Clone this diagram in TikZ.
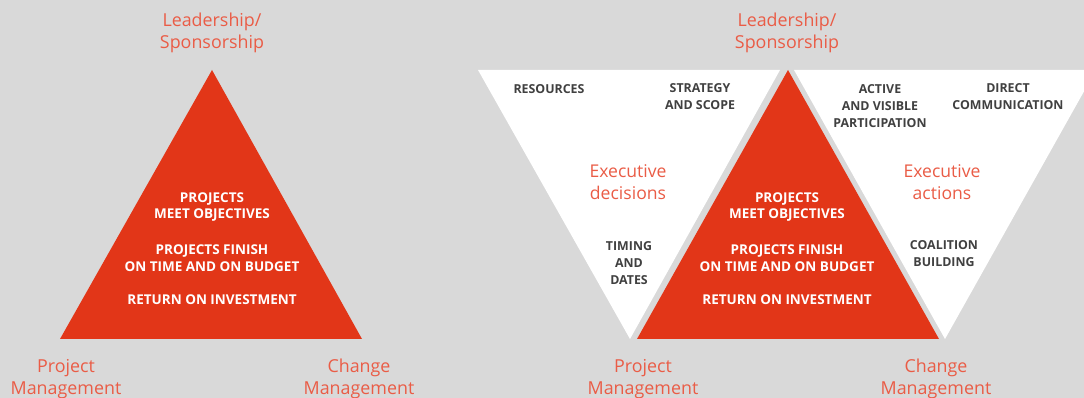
\documentclass[tikz,border=0pt]{standalone}
\usepackage{fontspec}
\setmainfont{Open Sans}
\usepackage{tikz}
\usetikzlibrary{positioning}
\definecolor{bggray}{RGB}{217,217,217}
\definecolor{pyramidred}{RGB}{226,54,24}
\definecolor{labelred}{RGB}{234,92,70}
\definecolor{capsgray}{RGB}{64,64,64}

\begin{document}
\begin{tikzpicture}[x=0.025cm, y=-0.025cm,
    corner/.style={text=labelred, align=center, font=\fontsize{12.7}{15.5}\selectfont},
    inner/.style={text=white, align=center, font=\bfseries\fontsize{9.6}{12}\selectfont},
    side/.style={text=capsgray, align=center, font=\bfseries\fontsize{8.8}{12}\selectfont},
    middle/.style={text=labelred, align=center, font=\fontsize{12.5}{15.5}\selectfont}]
% Background
\fill[bggray] (0,0) rectangle (1084,398);
\useasboundingbox (0,0) rectangle (1084,398);
\clip (0,0) rectangle (1084,398);

% Left pyramid
\fill[pyramidred] (60,339) -- (212,70) -- (362,339) -- cycle;
\node[corner] (lead1) at (212,33) {Leadership/\\Sponsorship};
\node[corner] (pm1) at (66,379) {Project\\Management};
\node[corner] (cm1) at (359,379) {Change\\Management};
\node[inner] (obj1) at (212,207) {PROJECTS\\MEET OBJECTIVES};
\node[inner] (time1) at (212,258) {PROJECTS FINISH\\ON TIME AND ON BUDGET};
\node[inner] (roi1) at (212,300) {RETURN ON INVESTMENT};

% Right pyramid with executive triangles
\fill[white] (478,70) -- (780,70) -- (630,339) -- cycle;
\fill[white] (794,70) -- (1096,70) -- (945,339) -- cycle;
\fill[pyramidred] (637,339) -- (788,70) -- (939,339) -- cycle;
\node[corner] (lead2) at (787,33) {Leadership/\\Sponsorship};
\node[corner] (pm2) at (643,379) {Project\\Management};
\node[corner] (cm2) at (936,379) {Change\\Management};
\node[inner] (obj2) at (787,207) {PROJECTS\\MEET OBJECTIVES};
\node[inner] (time2) at (787,258) {PROJECTS FINISH\\ON TIME AND ON BUDGET};
\node[inner] (roi2) at (787,300) {RETURN ON INVESTMENT};

% Executive decisions
\node[side] (res) at (549,89) {RESOURCES};
\node[side] (strat) at (700,97) {STRATEGY\\AND SCOPE};
\node[middle] (dec) at (628,182) {Executive\\decisions};
\node[side] (timing) at (629,263) {TIMING\\AND\\DATES};

% Executive actions
\node[side] (active) at (880,106) {ACTIVE\\AND VISIBLE\\PARTICIPATION};
\node[side] (direct) at (1008,97) {DIRECT\\COMMUNICATION};
\node[middle] (act) at (942,182) {Executive\\actions};
\node[side] (coal) at (944,254) {COALITION\\BUILDING};
\end{tikzpicture}
\end{document}
